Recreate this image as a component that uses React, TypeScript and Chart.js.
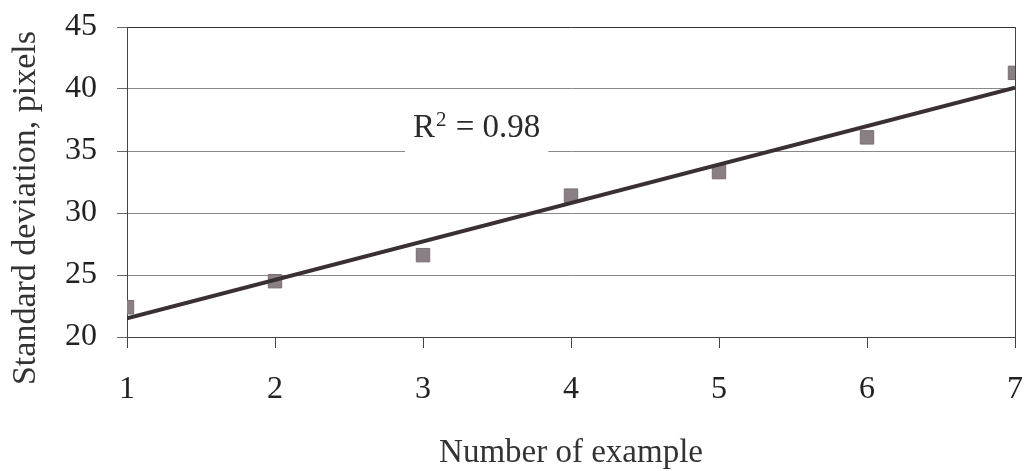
import React, { useEffect, useRef } from "react";
import { Chart, registerables } from "chart.js";

Chart.register(...registerables);

// Data
const exampleNumbers = [1, 2, 3, 4, 5, 6, 7];
const stdDeviation = [22.4, 24.5, 26.6, 31.4, 33.3, 36.1, 41.3];
const trendX = [1, 7];
const trendY = [21.5, 40.1];
const yTicks = [20, 25, 30, 35, 40, 45];
const xTitle = "Number of example";
const yTitle = "Standard deviation, pixels";
const rSquaredText = "0.98";

const SERIF = "'Liberation Serif', 'Times New Roman', serif";

const r2Plugin = {
  id: "r2label",
  afterDatasetsDraw(chart: any) {
    const { ctx, chartArea } = chart;
    const x0 = chartArea.left + 286;
    const baseY = chartArea.top + 110;
    ctx.save();
    ctx.font = `33px ${SERIF}`;
    const rw = ctx.measureText("R").width;
    const restW = ctx.measureText(" = " + rSquaredText).width;
    ctx.font = `21px ${SERIF}`;
    const sw = ctx.measureText("2").width;
    ctx.fillStyle = "#ffffff";
    ctx.fillRect(x0 - 8, baseY - 32, rw + sw + restW + 18, 49);
    ctx.fillStyle = "#2a2a2a";
    ctx.textBaseline = "alphabetic";
    ctx.textAlign = "left";
    ctx.font = `33px ${SERIF}`;
    ctx.fillText("R", x0, baseY);
    ctx.font = `21px ${SERIF}`;
    ctx.fillText("2", x0 + rw + 1, baseY - 11);
    ctx.font = `33px ${SERIF}`;
    ctx.fillText(" = " + rSquaredText, x0 + rw + sw + 2, baseY);
    ctx.restore();
  },
};

const yTitlePlugin = {
  id: "yTitleLabel",
  afterDraw(chart: any) {
    const { ctx, chartArea } = chart;
    ctx.save();
    ctx.translate(26, (chartArea.top + chartArea.bottom) / 2 + 26);
    ctx.rotate(-Math.PI / 2);
    ctx.fillStyle = "#333";
    ctx.font = `34px ${SERIF}`;
    ctx.textAlign = "center";
    ctx.textBaseline = "middle";
    ctx.fillText(yTitle, 0, 0);
    ctx.restore();
  },
};

export default function App() {
  const canvasRef = useRef<HTMLCanvasElement | null>(null);

  useEffect(() => {
    document.body.style.margin = "0";
    const canvas = canvasRef.current;
    if (!canvas) return;
    const chart = new Chart(canvas, {
      type: "scatter",
      data: {
        datasets: [
          {
            type: "line",
            label: "Trend",
            data: trendX.map((x, i) => ({ x, y: trendY[i] })),
            borderColor: "#3a3034",
            borderWidth: 4,
            pointRadius: 0,
            showLine: true,
            fill: false,
            order: 1,
          },
          {
            label: "Standard deviation",
            data: exampleNumbers.map((x, i) => ({ x, y: stdDeviation[i] })),
            pointStyle: "rect",
            pointRadius: 9.5,
            backgroundColor: "#8b7f86",
            borderColor: "#7a6e75",
            borderWidth: 1,
            showLine: false,
            order: 2,
          } as any,
        ],
      },
      options: {
        responsive: false,
        animation: false,
        layout: { padding: { left: 0, top: 27, right: 16, bottom: 0 } },
        plugins: {
          legend: { display: false },
          tooltip: { enabled: false },
        },
        scales: {
          x: {
            type: "linear",
            min: 1,
            max: 7,
            ticks: {
              stepSize: 1,
              color: "#222",
              padding: 22,
              font: { family: SERIF, size: 32 },
            },
            grid: {
              drawOnChartArea: true,
              color: (c: any) => (c.tick && c.tick.value === 7 ? "#444" : "rgba(0,0,0,0)"),
              tickColor: "#444",
              tickLength: 11,
              lineWidth: 1,
            },
            border: { color: "#444", width: 1 },
            title: {
              display: true,
              text: xTitle,
              color: "#333",
              font: { family: SERIF, size: 33, lineHeight: 1.1 },
              padding: { top: 0, bottom: 0 },
            },
            afterFit: (scale: any) => {
              scale.height = 134;
              scale.paddingLeft = 0;
              scale.paddingRight = 0;
            },
          },
          y: {
            type: "linear",
            min: 20,
            max: 45,
            afterBuildTicks: (scale: any) => {
              scale.ticks = yTicks.map((v) => ({ value: v }));
            },
            ticks: {
              color: "#222",
              padding: 20,
              font: { family: SERIF, size: 32 },
            },
            grid: {
              color: (c: any) => (c.tick && c.tick.value === 45 ? "#333" : "#888"),
              tickColor: "#666",
              tickLength: 10,
              lineWidth: 1,
            },
            border: { color: "#444", width: 1 },
            title: { display: false },
            afterFit: (scale: any) => {
              scale.width = 127;
              scale.paddingTop = 0;
              scale.paddingBottom = 0;
            },
          },
        },
      },
      plugins: [r2Plugin, yTitlePlugin],
    });
    return () => chart.destroy();
  }, []);

  return (
    <div style={{ position: "fixed", left: 0, top: 0, width: 1031, height: 471, background: "#fff" }}>
      <canvas ref={canvasRef} width={1031} height={471} />
    </div>
  );
}
